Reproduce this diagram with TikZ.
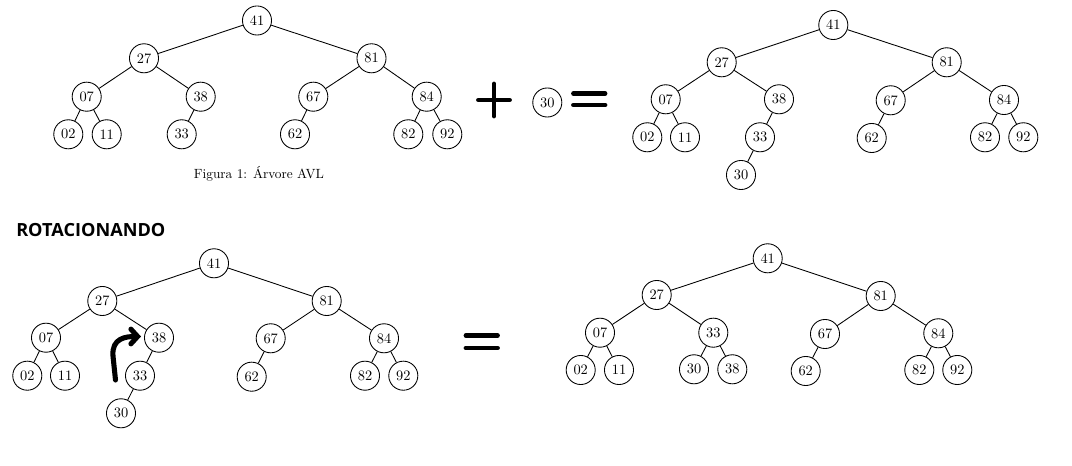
\documentclass[tikz,border=0pt]{standalone}
\usepackage{fontspec}
\newfontfamily\headfont{Open Sans}
\usetikzlibrary{arrows.meta}

\begin{document}
\begin{tikzpicture}[x=0.75pt,y=-0.75pt,
  key/.style={circle,draw,line width=0.65pt,minimum size=21.8pt,inner sep=0pt,
              font=\fontsize{10.8}{12}\selectfont},
  edge/.style={line width=0.65pt},
  bar/.style={line width=3.6pt,line cap=round},
  turn/.style={line width=3.8pt,line cap=round,line join=round,
               -{Straight Barb[length=5pt,width=11pt,line cap=round]}}]
\useasboundingbox (0,0) rectangle (1072,466);

% ---------- AVL tree before insertion ----------
\node[key] (A41) at (257,20.5) {41};
\node[key] (A27) at (144,58.3) {27};
\node[key] (A81) at (371.5,58.3) {81};
\node[key] (A07) at (86.7,96.7) {07};
\node[key] (A38) at (200.7,96.7) {38};
\node[key] (A67) at (313.3,96.7) {67};
\node[key] (A84) at (426.7,96.7) {84};
\node[key] (A02) at (68.3,134.3) {02};
\node[key] (A11) at (106.7,134.3) {11};
\node[key] (A33) at (181.7,134.3) {33};
\node[key] (A62) at (295,134.3) {62};
\node[key] (A82) at (408.3,134.3) {82};
\node[key] (A92) at (447.3,134.3) {92};
\draw[edge] (A41)--(A27) (A41)--(A81) (A27)--(A07) (A27)--(A38)
            (A81)--(A67) (A81)--(A84) (A07)--(A02) (A07)--(A11)
            (A38)--(A33) (A67)--(A62) (A84)--(A82) (A84)--(A92);
\node[font=\fontsize{10}{12}\selectfont] (cap) at (259,173.5) {Figura 1: Árvore AVL};

% ---------- plus new key equals ----------
\draw[bar] (478.5,100) -- (509.5,100) (494,84) -- (494,116);
\node[key] (N30) at (547.3,102.5) {30};
\draw[bar] (573.5,93.5) -- (605,93.5) (573.5,105) -- (605,105);

% ---------- tree after inserting 30 ----------
\node[key] (B41) at (833.3,25) {41};
\node[key] (B27) at (721.7,62.3) {27};
\node[key] (B81) at (946.7,62.3) {81};
\node[key] (B07) at (665.7,99.3) {07};
\node[key] (B38) at (779,99.3) {38};
\node[key] (B67) at (890.7,100.3) {67};
\node[key] (B84) at (1004,100) {84};
\node[key] (B02) at (647.3,137.3) {02};
\node[key] (B11) at (685,137.3) {11};
\node[key] (B33) at (760,137.3) {33};
\node[key] (B62) at (871.7,138) {62};
\node[key] (B82) at (985,137.3) {82};
\node[key] (B92) at (1023.3,137.3) {92};
\node[key] (B30) at (741,175) {30};
\draw[edge] (B41)--(B27) (B41)--(B81) (B27)--(B07) (B27)--(B38)
            (B81)--(B67) (B81)--(B84) (B07)--(B02) (B07)--(B11)
            (B38)--(B33) (B33)--(B30) (B67)--(B62) (B84)--(B82) (B84)--(B92);

% ---------- heading ----------
\node[anchor=west,inner sep=0pt,font=\headfont\bfseries\fontsize{13.6}{16}\selectfont]
  (head) at (16,230) {ROTACIONANDO};

% ---------- unbalanced tree with rotation hint ----------
\node[key] (C41) at (214,263.3) {41};
\node[key] (C27) at (102.3,301) {27};
\node[key] (C81) at (326.7,301) {81};
\node[key] (C07) at (46,337.7) {07};
\node[key] (C38) at (159,337.7) {38};
\node[key] (C67) at (270.7,338.3) {67};
\node[key] (C84) at (384,338.3) {84};
\node[key] (C02) at (27.3,375.7) {02};
\node[key] (C11) at (65,375.7) {11};
\node[key] (C33) at (140,375.7) {33};
\node[key] (C62) at (251.7,376.7) {62};
\node[key] (C82) at (365,375.7) {82};
\node[key] (C92) at (403.3,375.7) {92};
\node[key] (C30) at (121,413.3) {30};
\draw[edge] (C41)--(C27) (C41)--(C81) (C27)--(C07) (C27)--(C38)
            (C81)--(C67) (C81)--(C84) (C07)--(C02) (C07)--(C11)
            (C38)--(C33) (C33)--(C30) (C67)--(C62) (C84)--(C82) (C84)--(C92);
\coordinate (rotS) at (115.5,380);
\coordinate (rotE) at (141,336.5);
\draw[turn] (rotS) -- (113,356) .. controls (111.5,338) and (126,336.5) .. (rotE);

\draw[bar] (466,335.5) -- (497.5,335.5) (466,348) -- (497.5,348);

% ---------- balanced tree after rotation ----------
\node[key] (D41) at (767.7,258.3) {41};
\node[key] (D27) at (656.7,295) {27};
\node[key] (D81) at (880.7,296) {81};
\node[key] (D07) at (600,332.7) {07};
\node[key] (D33) at (713.3,332.7) {33};
\node[key] (D67) at (825,334) {67};
\node[key] (D84) at (938.3,333.3) {84};
\node[key] (D02) at (580.7,370) {02};
\node[key] (D11) at (619,370) {11};
\node[key] (D30) at (694,369.3) {30};
\node[key] (D38) at (732.3,369.3) {38};
\node[key] (D62) at (805.7,371) {62};
\node[key] (D82) at (919.3,370) {82};
\node[key] (D92) at (957.3,370) {92};
\draw[edge] (D41)--(D27) (D41)--(D81) (D27)--(D07) (D27)--(D33)
            (D81)--(D67) (D81)--(D84) (D07)--(D02) (D07)--(D11)
            (D33)--(D30) (D33)--(D38) (D67)--(D62) (D84)--(D82) (D84)--(D92);
\end{tikzpicture}
\end{document}
